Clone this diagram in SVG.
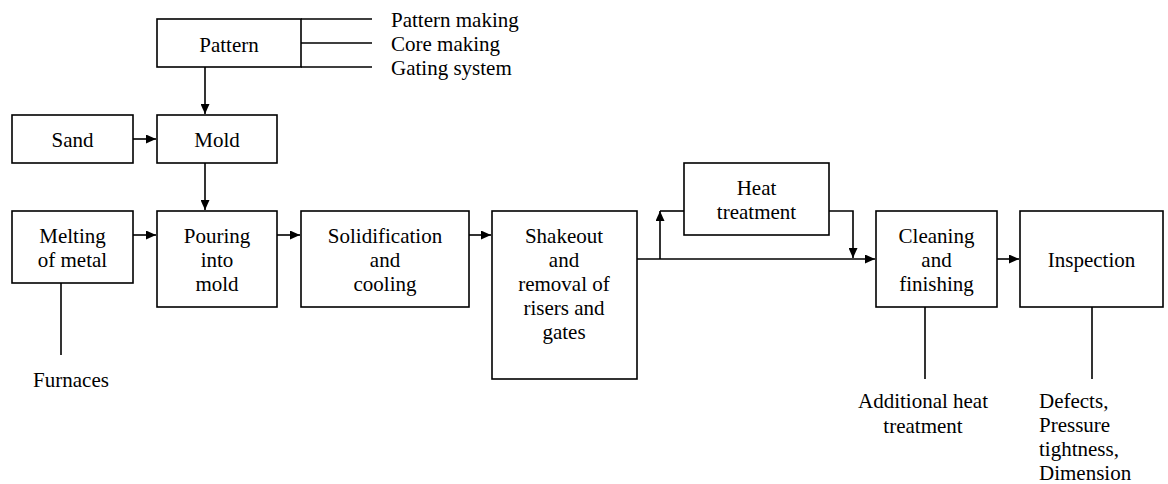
<svg xmlns="http://www.w3.org/2000/svg" width="1168" height="484" viewBox="0 0 1168 484">
<style>
.box{fill:#fff;stroke:#000;stroke-width:1.6}
.ln{fill:none;stroke:#000;stroke-width:1.6}
.arr{fill:none;stroke:#000;stroke-width:1.6;marker-end:url(#ah)}
.t{font-family:'Liberation Serif','Times New Roman','DejaVu Serif',serif;font-size:21px;fill:#000}
.c{text-anchor:middle}
</style>
<defs>
<marker id="ah" markerUnits="userSpaceOnUse" markerWidth="11" markerHeight="9" refX="10" refY="4.5" orient="auto">
<path d="M0,0 L10,4.5 L0,9 z" fill="#000"/>
</marker>
</defs>
<rect width="1168" height="484" fill="#fff"/>
<g id="connectors">
<path class="arr" d="M205,67 V114"/>
<path class="arr" d="M133,139 H156"/>
<path class="arr" d="M205,163 V210"/>
<path class="arr" d="M133,235 H156"/>
<path class="arr" d="M277,235 H300"/>
<path class="arr" d="M469,235 H491"/>
<path class="arr" d="M637,259 H875"/>
<path class="arr" d="M660,259 V211"/>
<path class="ln" d="M660,211 H684"/>
<path class="arr" d="M829,211 H853 V258"/>
<path class="arr" d="M997,259 H1019"/>
<path class="ln" d="M301,19 H372 M301,43 H372 M301,67 H372"/>
<path class="ln" d="M61,283 V355"/>
<path class="ln" d="M925,307 V379"/>
<path class="ln" d="M1092,307 V379"/>
</g>
<g class="t" font-family="Liberation Serif, Times New Roman, DejaVu Serif, serif" font-size="21">
<g id="pattern">
<rect class="box" x="157" y="19" width="144" height="48"/>
<text class="c" x="229" y="52">Pattern</text>
</g>
<g id="pattern-notes">
<text x="391" y="27">Pattern making</text>
<text x="391" y="51">Core making</text>
<text x="391" y="75">Gating system</text>
</g>
<g id="sand">
<rect class="box" x="12" y="115" width="121" height="48"/>
<text class="c" x="72.5" y="147">Sand</text>
</g>
<g id="mold">
<rect class="box" x="157" y="115" width="120" height="48"/>
<text class="c" x="217" y="147">Mold</text>
</g>
<g id="melting">
<rect class="box" x="12" y="211" width="121" height="72"/>
<text class="c" x="72.5" y="243">Melting</text>
<text class="c" x="72.5" y="267">of metal</text>
</g>
<g id="furnaces">
<text class="c" x="71" y="387">Furnaces</text>
</g>
<g id="pouring">
<rect class="box" x="157" y="211" width="120" height="96"/>
<text class="c" x="217" y="243">Pouring</text>
<text class="c" x="217" y="267">into</text>
<text class="c" x="217" y="291">mold</text>
</g>
<g id="solidification">
<rect class="box" x="301" y="211" width="168" height="96"/>
<text class="c" x="385" y="243">Solidification</text>
<text class="c" x="385" y="267">and</text>
<text class="c" x="385" y="291">cooling</text>
</g>
<g id="shakeout">
<rect class="box" x="492" y="211" width="145" height="168"/>
<text class="c" x="564" y="243">Shakeout</text>
<text class="c" x="564" y="267">and</text>
<text class="c" x="564" y="291">removal of</text>
<text class="c" x="564" y="315">risers and</text>
<text class="c" x="564" y="339">gates</text>
</g>
<g id="heat-treatment">
<rect class="box" x="684" y="163" width="145" height="72"/>
<text class="c" x="756.5" y="195">Heat</text>
<text class="c" x="756.5" y="219">treatment</text>
</g>
<g id="cleaning">
<rect class="box" x="876" y="211" width="121" height="96"/>
<text class="c" x="936.5" y="243">Cleaning</text>
<text class="c" x="936.5" y="267">and</text>
<text class="c" x="936.5" y="291">finishing</text>
</g>
<g id="additional-heat">
<text class="c" x="923" y="408">Additional heat</text>
<text class="c" x="923" y="433">treatment</text>
</g>
<g id="inspection">
<rect class="box" x="1020" y="211" width="143" height="96"/>
<text class="c" x="1091.5" y="267">Inspection</text>
</g>
<g id="inspection-notes">
<text x="1039" y="408">Defects,</text>
<text x="1039" y="432">Pressure</text>
<text x="1039" y="456">tightness,</text>
<text x="1039" y="480">Dimension</text>
</g>
</g>
</svg>
